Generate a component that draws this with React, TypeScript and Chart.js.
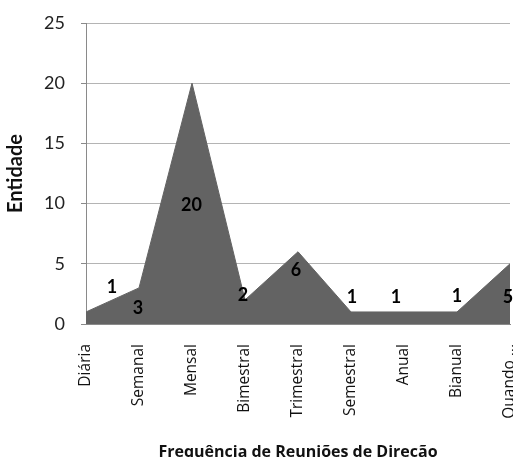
import React, { useEffect, useRef } from "react";
import { Chart, registerables } from "chart.js";

Chart.register(...registerables);

const categories = [
  "Diária",
  "Semanal",
  "Mensal",
  "Bimestral",
  "Trimestral",
  "Semestral",
  "Anual",
  "Bianual",
  "Quando ...",
];
const entidades = [1, 3, 20, 2, 6, 1, 1, 1, 5];
const yTicks = [0, 5, 10, 15, 20, 25];

// label anchors in data units: [category index, value height]
const labelAnchorX = [0.49, 0.98, 1.99, 2.96, 3.96, 5.02, 5.85, 7.0, 7.96];
const labelAnchorY = [3.07, 1.33, 9.87, 2.41, 4.49, 2.24, 2.24, 2.32, 2.24];

const dataLabels = {
  id: "dataLabels",
  afterDatasetsDraw(chart: any) {
    const { ctx, scales } = chart;
    ctx.save();
    ctx.font = "bold 18px Lato";
    ctx.fillStyle = "#000";
    ctx.textAlign = "center";
    ctx.textBaseline = "middle";
    entidades.forEach((v, i) => {
      const x = scales.x.getPixelForValue(labelAnchorX[i]);
      const y = scales.y.getPixelForValue(labelAnchorY[i]);
      ctx.fillText(String(v), x, y);
    });
    ctx.restore();
  },
};

export default function App() {
  const ref = useRef<HTMLCanvasElement>(null);
  useEffect(() => {
    const chart = new Chart(ref.current!, {
      type: "line",
      data: {
        labels: categories,
        datasets: [
          {
            data: entidades,
            fill: "origin",
            backgroundColor: "#636363",
            borderColor: "#636363",
            borderWidth: 1,
            pointRadius: 0,
            tension: 0,
          },
        ],
      },
      options: {
        animation: false,
        responsive: false,
        events: [],
        layout: { padding: { top: 23, right: 3, left: 0, bottom: 0 } },
        plugins: {
          legend: { display: false },
          tooltip: { enabled: false },
        },
        scales: {
          x: {
            offset: false,
            grid: { display: false, drawTicks: false },
            border: { display: true, color: "#8a8a8a", width: 1 },
            ticks: {
              autoSkip: false,
              maxRotation: 90,
              minRotation: 90,
              padding: 20,
              color: "#111",
              font: { family: "Open Sans", size: 15.5 },
            },
            title: {
              display: true,
              text: "Frequência de Reuniões de Direção",
              color: "#111",
              font: { family: "Open Sans", size: 16, weight: "bold" },
              padding: { top: 4, bottom: 1 },
            },
            afterFit(scale: any) {
              scale.height = 139;
              scale.paddingLeft = 0;
              scale.paddingRight = 0;
            },
          },
          y: {
            min: 0,
            max: 25,
            afterBuildTicks(scale: any) {
              scale.ticks = yTicks.map((v) => ({ value: v }));
            },
            grid: {
              color: "#b4b4b4",
              drawTicks: true,
              tickLength: 5,
              tickColor: "#8a8a8a",
            },
            border: { display: true, color: "#8a8a8a", width: 1 },
            ticks: {
              padding: 16,
              color: "#222",
              font: { family: "Lato", size: 18 },
            },
            title: {
              display: true,
              text: "Entidade",
              color: "#111",
              font: { family: "Lato", size: 20, weight: "bold" },
              padding: { top: 4, bottom: 0 },
            },
            afterFit(scale: any) {
              scale.width = 86;
              scale.paddingTop = 0;
              scale.paddingBottom = 0;
            },
          },
        },
      },
      plugins: [dataLabels],
    });
    return () => chart.destroy();
  }, []);
  return (
    <div
      style={{
        position: "fixed",
        left: 0,
        top: 0,
        width: 513,
        height: 457,
        overflow: "hidden",
        background: "#fff",
      }}
    >
      <canvas ref={ref} width={513} height={463} style={{ display: "block" }} />
    </div>
  );
}
